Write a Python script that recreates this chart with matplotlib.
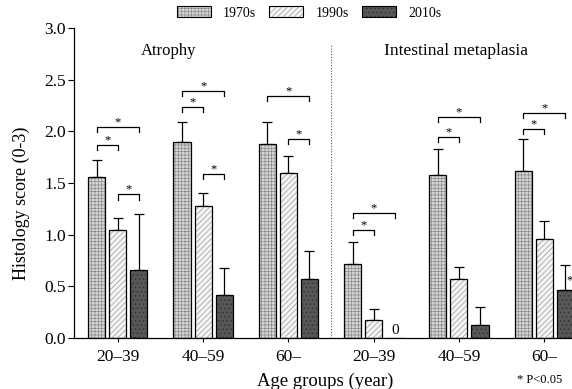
import numpy as np
import matplotlib
matplotlib.use("Agg")
import matplotlib.pyplot as plt
from matplotlib.patches import Patch
from matplotlib.legend_handler import HandlerTuple

# age groups: first three = atrophy, last three = intestinal metaplasia
groups = ["20–39", "40–59", "60–", "20–39", "40–59", "60–"]
decades = ["1970s", "1990s", "2010s"]
score_1970s = [1.56, 1.90, 1.88, 0.72, 1.58, 1.62]
score_1990s = [1.05, 1.28, 1.60, 0.17, 0.57, 0.96]
score_2010s = [0.66, 0.42, 0.57, 0.00, 0.13, 0.46]
err_1970s = [0.16, 0.19, 0.21, 0.21, 0.25, 0.31]
err_1990s = [0.11, 0.12, 0.16, 0.11, 0.12, 0.17]
err_2010s = [0.54, 0.26, 0.27, 0.00, 0.17, 0.25]

# significance brackets: group, from decade, to decade, height
br_group = [0, 0, 0, 1, 1, 1, 2, 2, 3, 3, 4, 4, 5, 5]
br_from = [0, 0, 1, 0, 0, 1, 0, 1, 0, 0, 0, 0, 0, 0]
br_to = [1, 2, 2, 1, 2, 2, 2, 2, 1, 2, 1, 2, 1, 2]
br_y = [1.865, 2.045, 1.39, 2.24, 2.39, 1.59, 2.34, 1.925,
        1.05, 1.21, 1.95, 2.14, 2.02, 2.18]

plt.rcParams["font.family"] = ["Liberation Serif", "DejaVu Serif"]
plt.rcParams["hatch.linewidth"] = 0.5

W, H = 572, 389
fig = plt.figure(figsize=(W / 100, H / 100), dpi=100)
px_per_group = 85.3
x0, x1 = -0.513, 5.6
ax = fig.add_axes([74 / W, 51 / H, (x1 - x0) * px_per_group / W, 310 / H])

x = np.arange(len(groups))
step, width = 0.247, 0.2
styles = [
    ("#d6d6d6", "+++++", "#8a8a8a"),
    ("#f4f4f4", "//////", "#9a9a9a"),
    ("#575757", "....", "#2e2e2e"),
]
scores = [score_1970s, score_1990s, score_2010s]
errs = [err_1970s, err_1990s, err_2010s]

handles = []
for k, (vals, ee, (fc, hatch, hc)) in enumerate(zip(scores, errs, styles)):
    xs = x + (k - 1) * step
    vals = np.array(vals)
    ee = np.array(ee)
    ax.bar(xs, vals, width, color=fc, hatch=hatch, edgecolor=hc, linewidth=0, zorder=2)
    ax.bar(xs, vals, width, facecolor="none", edgecolor="black", linewidth=0.9, zorder=3)
    m = ee > 0
    ax.errorbar(xs[m], vals[m], yerr=[np.zeros(m.sum()), ee[m]], fmt="none",
                ecolor="black", elinewidth=0.9, capsize=3.5, capthick=0.9, zorder=1)
    handles.append((Patch(facecolor=fc, hatch=hatch, edgecolor=hc, linewidth=0),
                    Patch(facecolor="none", edgecolor="black", linewidth=0.8)))

# brackets with stars
leg = 0.05
for g, a, b, y in zip(br_group, br_from, br_to, br_y):
    xa = g + (a - 1) * step
    xb = g + (b - 1) * step
    ax.plot([xa, xa, xb, xb], [y - leg, y, y, y - leg], color="black", lw=0.9, zorder=4)
    ax.text((xa + xb) / 2, y + 0.045, "*", ha="center", va="center", fontsize=9)
ax.text(5.30, 0.56, "*", ha="center", va="center", fontsize=9)

# zero value label
ax.text(3 + step, 0.01, "0", ha="center", va="bottom", fontsize=11)

# divider and panel titles
ax.plot([2.5, 2.5], [0, 2.85], color="0.35", lw=0.8, linestyle=(0, (1, 1.5)))
ax.text(0.6, 2.78, "Atrophy", ha="center", va="center", fontsize=12)
ax.text(3.96, 2.78, "Intestinal metaplasia", ha="center", va="center", fontsize=12.5)

ax.set_xlim(x0, x1)
ax.set_ylim(0, 3)
ax.set_yticks(np.arange(0, 3.01, 0.5))
ax.set_yticklabels([f"{v:.1f}" for v in np.arange(0, 3.01, 0.5)])
ax.set_xticks(x)
ax.set_xticklabels(groups)
ax.tick_params(axis="y", direction="out", length=4, width=0.8, pad=2, labelsize=12.5)
ax.tick_params(axis="x", direction="out", length=3, width=0.8, pad=5, labelsize=12.5)
for s in ["top", "right"]:
    ax.spines[s].set_visible(False)
ax.spines["left"].set_linewidth(0.9)
ax.spines["bottom"].set_linewidth(0.9)

fig.text(21 / W, 1 - 203 / H, "Histology score (0-3)", rotation=90,
         ha="center", va="center", fontsize=13)
fig.text(325 / W, 1 - 381 / H, "Age groups (year)", ha="center", va="center", fontsize=13.5)
fig.text(540 / W, 1 - 380 / H, "* P<0.05", ha="center", va="center", fontsize=9)

fig.legend(handles, decades, handler_map={tuple: HandlerTuple(ndivide=1, pad=0)},
           loc="center", bbox_to_anchor=(309 / W, 1 - 13 / H), ncol=3, frameon=False,
           fontsize=10, handlelength=2.45, handleheight=0.86, columnspacing=1.0,
           handletextpad=0.85, borderpad=0)

fig.savefig("out.png", dpi=100)
